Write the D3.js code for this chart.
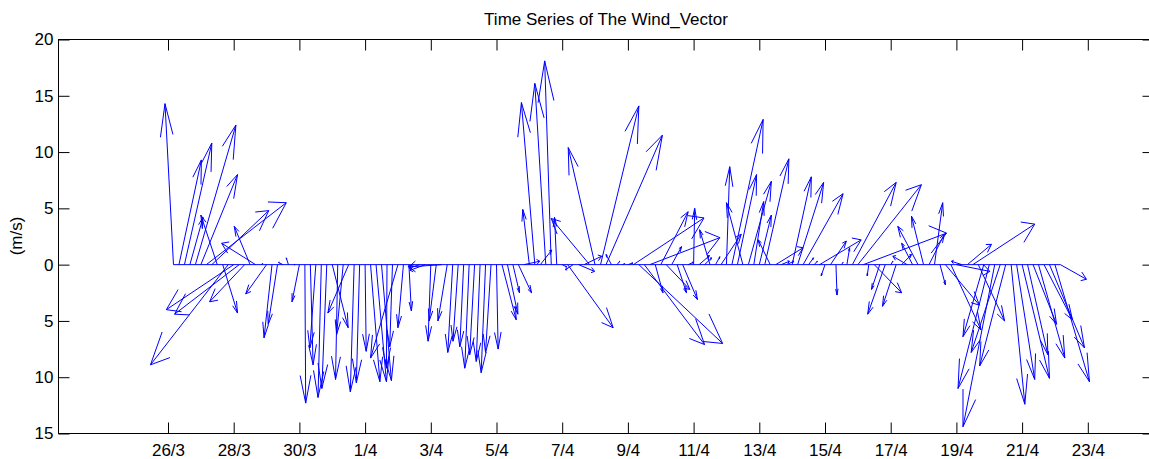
<!DOCTYPE html>
<html><head><meta charset="utf-8">
<script src="https://cdn.jsdelivr.net/npm/d3@7"></script>
<style>
body{margin:0;background:#fff}
svg{display:block}
text{font-family:"Liberation Sans",Arial,Helvetica,sans-serif;fill:#000}
</style>
</head><body>
<svg id="chart" width="1149" height="459"></svg>
<script>
// Wind components (m/s), one sample every 4 hours, index 1..163
const uComp = [
 -1.55, 4.1, 5.0, 2.4, 7.4, 6.7, 14.6, 10.4, -3.0, 2.7,
 -14.2, -12.3, -11.8, -6.4, -2.9, -6.2, 0.3, -3.8, -1.46, -1.7,
 -0.8, -0.4, 0.2, -1.35, 0.15, 0.5, -1.1, -0.6, -0.9, 2.9,
 -0.4, -1.2, -3.8, -0.7, -0.6, 0.2, 1.7, 1.9, 1.8, -0.1,
 -0.5, -5.0, -1.0, 0.45, -1.1, -2.0, -2.8, -0.5, -1.3, -6.0,
 -1.7, -0.9, -0.95, -0.7, -0.8, -0.9, -0.7, -0.8, -1.0, 0.3,
 2.6, 1.9, 1.2, 2.4, 2.9, -1.2, -2.45, 2.1, -2.0, -1.2,
 -0.4, 0.8, 8.3, -1.4, 2.9, 3.2, -7.0, -4.9, 7.0, 10.3,
 -1.0, 0.5, 0.4, 0.9, 12.9, 15.3, 11.0, 12.8, 1.4, 5.0,
 4.3, 1.8, 1.7, 2.7, 0.9, 0.2, 1.9, 1.3, -1.9, 0.8,
 3.7, 0.6, 5.7, 3.5, -3.0, 4.2, 1.8, 2.2, 4.4, -2.2,
 5.0, 1.5, 1.3, 3.5, 4.75, 7.3, 0.9, 0.6, 7.6, -0.7,
 2.9, 0.2, 0.3, 0.5, 8.0, 11.6, 15.2, -0.3, 5.0, -1.5,
 -3.2, 0.4, -2.5, 1.8, -2.6, -2.0, -3.7, -2.2, 2.8, 1.5,
 1.0, 6.2, 5.5, 6.1, -1.9, 4.4, 11.3, 4.8, -3.8, -5.7,
 -5.8, -5.3, -4.75, 2.5, 3.3, 5.0, 3.7, 4.3, 4.8, 5.2,
 6.4, 6.3, 4.75
];
const vComp = [
 14.3, 9.3, 10.8, 4.2, 12.4, 8.0, 5.5, 4.8, 4.4, -4.3,
 -8.9, -4.0, -4.4, -3.3, 3.4, 1.9, 0.1, -2.6, -6.5, -5.3,
 0.2, 0.6, 0.0, -3.3, -12.3, -8.9, -7.4, -11.8, -11.0, -5.6,
 -10.2, -6.2, -4.3, -11.3, -10.5, -7.7, -10.4, -10.4, -10.3, -9.2,
 -7.3, -8.3, -5.6, -4.1, -0.15, -0.3, -0.5, -6.8, -5.0, -0.2,
 -5.0, -7.8, -6.8, -7.3, -9.2, -8.0, -8.6, -9.6, -7.8, -7.5,
 -4.9, -4.4, -2.5, -2.5, 0.3, 4.9, 14.4, 1.3, 16.1, 18.1,
 4.2, -0.2, -5.6, -0.45, -0.6, 0.75, 4.1, 10.4, 14.1, 11.5,
 0.9, 0.3, 0.1, 0.15, 4.15, -7.0, -7.1, 2.4, -2.5, 4.7,
 -2.2, 1.6, -2.5, -3.1, 0.2, 5.0, 0.8, 0.6, 3.1, 0.7,
 2.7, 8.7, 12.9, 8.0, 5.5, 7.4, 5.6, 4.4, 9.4, 2.2,
 1.5, 0.3, 0.3, 7.8, 7.3, 6.3, 0.6, 0.3, 2.2, -1.0,
 2.1, -2.7, 0.2, 1.5, 7.3, 7.1, 2.8, -1.0, -2.5, -2.2,
 -4.4, 0.3, -3.7, 0.9, 0.75, 1.9, 3.4, 4.3, 2.7, 5.5,
 -1.8, -3.6, -5.8, -0.6, 0.3, 1.8, 3.6, -5.0, -6.4, -11.0,
 -14.4, -7.8, -9.0, -12.4, -10.2, -10.1, -8.0, -5.3, -8.3, -4.9,
 -7.4, -10.4, -1.3
];
// x ticks: sample index of each labelled day (6 samples per day)
const xTickIdx = [0, 12, 24, 36, 48, 60, 72, 84, 96, 108, 120, 132, 144, 156, 168];
const xTickLabels = ["26/3","28/3","30/3","1/4","3/4","5/4","7/4","9/4","11/4","13/4","15/4","17/4","19/4","21/4","23/4"];
const yTickVals = [-15, -10, -5, 0, 5, 10, 15, 20];
const yTickLabels = ["15","10","5","0","5","10","15","20"];

const svg = d3.select("#chart");
const x = d3.scaleLinear().domain([-20, 180]).range([58.5, 1153.5]);
const y = d3.scaleLinear().domain([-15, 20]).range([433.5, 39.5]);

const n = uComp.length;
const data = uComp.map((u, k) => ({i: k + 1, u: u, v: vComp[k]}));

// baseline
svg.append("line")
  .attr("x1", x(1)).attr("x2", x(n))
  .attr("y1", y(0)).attr("y2", y(0))
  .attr("stroke", "#0000ff").attr("stroke-width", 1);

// feather arrows (MATLAB-style: shaft + head built in data units)
svg.append("g").selectAll("path").data(data).join("path")
  .attr("fill", "none").attr("stroke", "#0000ff").attr("stroke-width", 1)
  .attr("stroke-linejoin", "miter")
  .attr("d", d => {
    const x0 = d.i, tx = d.i + d.u, ty = d.v;
    const b1x = d.i + 0.8 * d.u - 0.08 * d.v, b1y = 0.8 * d.v + 0.08 * d.u;
    const b2x = d.i + 0.8 * d.u + 0.08 * d.v, b2y = 0.8 * d.v - 0.08 * d.u;
    return `M${x(x0)},${y(0)}L${x(tx)},${y(ty)}L${x(b1x)},${y(b1y)}M${x(tx)},${y(ty)}L${x(b2x)},${y(b2y)}`;
  });

// axes
const tick = 11;
const gB = svg.append("g").attr("transform", `translate(0,${y(-15)})`)
  .call(d3.axisBottom(x).tickValues(xTickIdx).tickFormat((d, k) => xTickLabels[k]).tickSize(-tick).tickPadding(10));
const gT = svg.append("g").attr("transform", `translate(0,${y(20)})`)
  .call(d3.axisTop(x).tickValues(xTickIdx).tickFormat("").tickSize(-tick));
const gL = svg.append("g").attr("transform", `translate(${x(-20)},0)`)
  .call(d3.axisLeft(y).tickValues(yTickVals).tickFormat((d, k) => yTickLabels[k]).tickSize(-tick).tickPadding(5));
const gR = svg.append("g").attr("transform", `translate(${x(180)},0)`)
  .call(d3.axisRight(y).tickValues(yTickVals).tickFormat("").tickSize(-tick));
[gB, gT, gL, gR].forEach(g => {
  g.select(".domain").remove();
  g.selectAll("line").attr("stroke", "#000");
  g.selectAll("text").attr("font-size", 17).attr("font-family", "'Liberation Sans', Arial, sans-serif").attr("fill", "#000");
});

// frame
svg.append("rect")
  .attr("x", x(-20)).attr("y", y(20))
  .attr("width", x(180) - x(-20)).attr("height", y(-15) - y(20))
  .attr("fill", "none").attr("stroke", "#000").attr("stroke-width", 1);

// title and label
svg.append("text").attr("x", 606).attr("y", 25).attr("text-anchor", "middle")
  .attr("font-size", 17).text("Time Series of The Wind_Vector");
svg.append("text").attr("transform", "translate(22,236) rotate(-90)")
  .attr("text-anchor", "middle").attr("font-size", 17).text("(m/s)");
</script>
</body></html>
